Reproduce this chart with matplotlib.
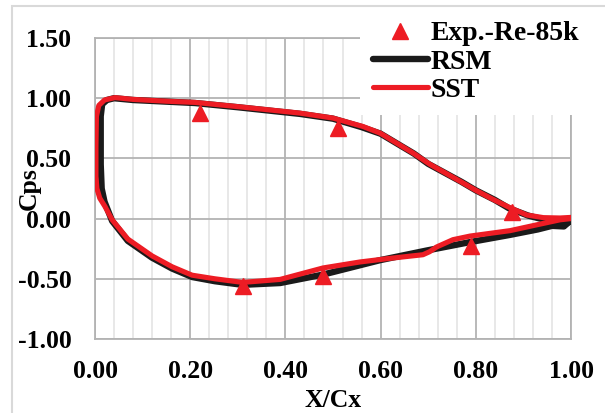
import matplotlib
matplotlib.use('Agg')
import matplotlib.pyplot as plt
from matplotlib.patches import Rectangle
from matplotlib.ticker import MultipleLocator, FormatStrFormatter

# Experimental points
exp_x = [0.22, 0.51, 0.875, 0.79, 0.48, 0.31]
exp_y = [0.88, 0.75, 0.055, -0.23, -0.48, -0.56]

# RSM loop (trailing edge -> pressure side -> leading edge -> suction side -> trailing edge)
rsm_x = [1.00, 0.985, 0.97, 0.94, 0.91, 0.87, 0.84, 0.80, 0.77, 0.70, 0.67, 0.60, 0.56,
         0.50, 0.43, 0.30, 0.21, 0.08, 0.04, 0.025, 0.015, 0.012, 0.012, 0.014, 0.02,
         0.036, 0.069, 0.12, 0.162, 0.204, 0.252, 0.31, 0.389, 0.479, 0.599, 0.697,
         0.788, 0.872, 0.93, 0.96, 0.985, 1.00]
rsm_y = [-0.01, -0.06, -0.035, -0.005, 0.025, 0.085, 0.155, 0.235, 0.305, 0.455, 0.54,
         0.705, 0.76, 0.83, 0.87, 0.925, 0.96, 0.985, 1.0, 0.985, 0.95, 0.85, 0.45, 0.25,
         0.14, -0.02, -0.185, -0.325, -0.415, -0.485, -0.52, -0.55, -0.535, -0.465,
         -0.345, -0.265, -0.195, -0.135, -0.09, -0.06, -0.065, -0.01]

# SST loop
sst_x = [1.00, 0.977, 0.942, 0.907, 0.872, 0.836, 0.80, 0.767, 0.704, 0.668, 0.599,
         0.563, 0.50, 0.431, 0.30, 0.21, 0.15, 0.08, 0.042, 0.02, 0.008, 0.003, 0.002,
         0.002, 0.004, 0.010, 0.021, 0.036, 0.069, 0.12, 0.162, 0.204, 0.252, 0.31,
         0.389, 0.479, 0.557, 0.62, 0.689, 0.703, 0.718, 0.752, 0.788, 0.872, 0.93,
         0.977, 1.00]
sst_y = [0.01, 0.005, 0.008, 0.03, 0.09, 0.16, 0.235, 0.31, 0.45, 0.545, 0.71, 0.765,
         0.835, 0.876, 0.93, 0.965, 0.975, 0.99, 1.005, 0.985, 0.94, 0.85, 0.6, 0.35,
         0.25, 0.17, 0.10, -0.01, -0.17, -0.31, -0.40, -0.47, -0.50, -0.53, -0.505,
         -0.41, -0.36, -0.33, -0.30, -0.275, -0.235, -0.175, -0.145, -0.10, -0.05,
         -0.01, 0.0]

red = '#ED1C24'

plt.rcParams['font.family'] = 'Liberation Serif'
plt.rcParams['font.weight'] = 'bold'

fig = plt.figure(figsize=(6.05, 4.13), dpi=100)
ax = fig.add_axes([95 / 605, 1 - 339 / 413, 476 / 605, 301 / 413])

ax.plot(rsm_x, rsm_y, color='#1a1a1a', lw=4.6, label='RSM', zorder=3,
        solid_joinstyle='round', solid_capstyle='round')
ax.plot(sst_x, sst_y, color=red, lw=3.7, label='SST', zorder=4,
        solid_joinstyle='round', solid_capstyle='round')
ax.plot(exp_x, exp_y, '^', color=red, ms=11, label='Exp.-Re-85k', zorder=5,
        linestyle='none')

ax.set_xlim(0, 1)
ax.set_ylim(-1, 1.5)
ax.xaxis.set_major_locator(MultipleLocator(0.2))
ax.xaxis.set_minor_locator(MultipleLocator(0.04))
ax.yaxis.set_major_locator(MultipleLocator(0.5))
ax.xaxis.set_major_formatter(FormatStrFormatter('%.2f'))
ax.yaxis.set_major_formatter(FormatStrFormatter('%.2f'))
ax.grid(True, which='major', color='#b3b3b3', lw=1.3, zorder=0)
ax.grid(True, which='minor', axis='x', color='#e6e6e6', lw=1.3, zorder=0)
ax.set_axisbelow(True)
for s in ax.spines.values():
    s.set_color('#b3b3b3')
    s.set_linewidth(1.3)
ax.tick_params(which='both', length=0, labelsize=18.5)
ax.tick_params(axis='y', pad=17)
ax.tick_params(axis='x', pad=15)

ax.set_xlabel('X/Cx', fontsize=18.5, fontweight='bold')
ax.set_ylabel('Cps', fontsize=18.5, fontweight='bold')
ax.xaxis.set_label_coords(0.5, -0.165)
ax.yaxis.set_label_coords(-0.115, 0.5)

handles, labels = ax.get_legend_handles_labels()
order = [2, 0, 1]
leg = ax.legend([handles[i] for i in order], [labels[i] for i in order],
                loc='upper left', bbox_to_anchor=(360 / 605, 1 - 8.5 / 413),
                bbox_transform=fig.transFigure, borderaxespad=0, borderpad=0.45,
                fontsize=20, frameon=True, fancybox=False, framealpha=1,
                edgecolor='none', facecolor='white', handlelength=2.0,
                handletextpad=0.1, labelspacing=0.1, numpoints=1)
leg.set_zorder(10)

# light chart-area border
fig.add_artist(Rectangle((12 / 605, -0.1), 1.2, 1 - 6 / 413 + 0.1, transform=fig.transFigure,
                         fill=False, edgecolor='#d9d9d9', lw=1.5))

fig.savefig('out.png', dpi=100)
